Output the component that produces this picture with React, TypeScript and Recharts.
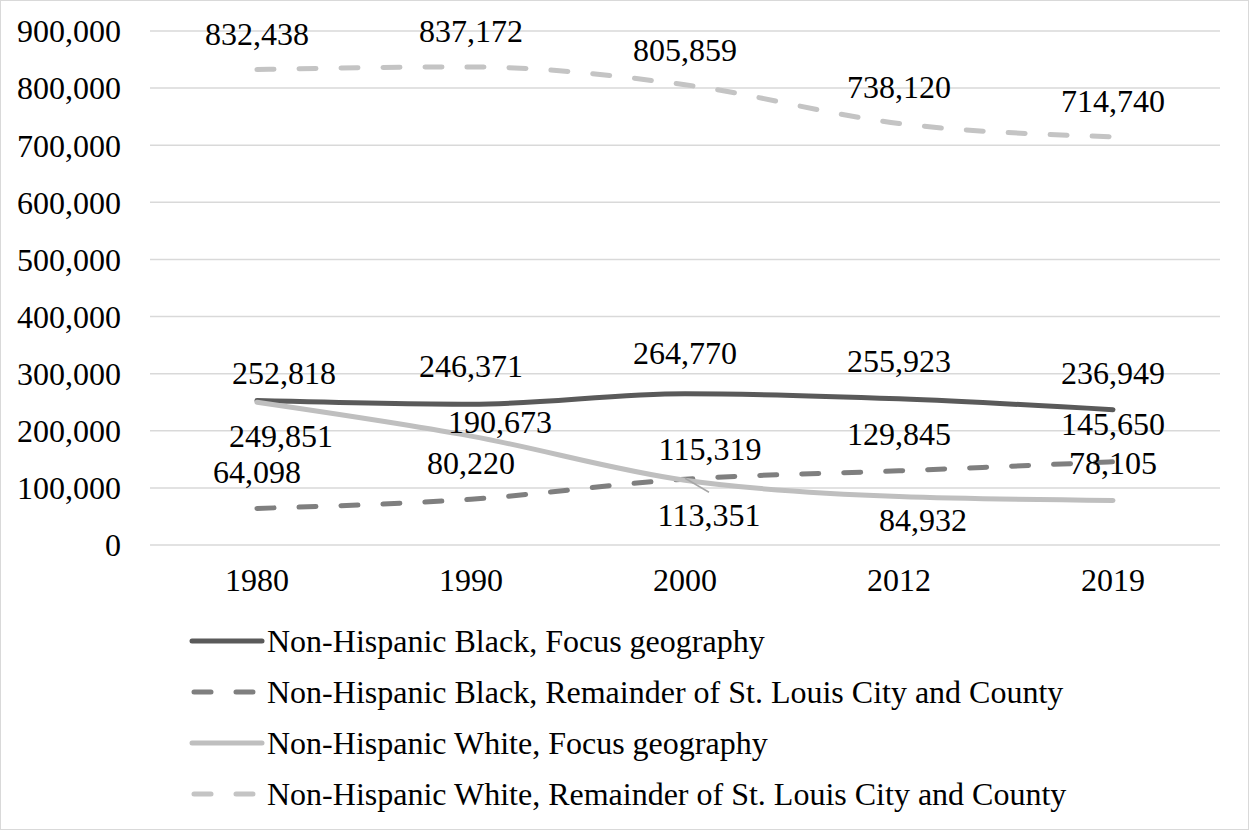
import React from 'react';
import { LineChart, Line, XAxis, YAxis, CartesianGrid, LabelList, Legend } from 'recharts';

const years = ['1980', '1990', '2000', '2012', '2019'];
const blackFocus = [252818, 246371, 264770, 255923, 236949];
const blackRemainder = [64098, 80220, 115319, 129845, 145650];
const whiteFocus = [249851, 190673, 113351, 84932, 78105];
const whiteRemainder = [832438, 837172, 805859, 738120, 714740];
const yTicks = [0, 100000, 200000, 300000, 400000, 500000, 600000, 700000, 800000, 900000];

const data = years.map((year, i) => ({
  year,
  blackFocus: blackFocus[i],
  blackRemainder: blackRemainder[i],
  whiteFocus: whiteFocus[i],
  whiteRemainder: whiteRemainder[i],
}));

const FONT = '"Liberation Serif", "Times New Roman", Times, serif';
const fmt = (v: number) => String(v).replace(/\B(?=(\d{3})+(?!\d))/g, ',');
const DASH = '17 25';
const SW = 5;

// label placement (offset of label centre from point), kept apart from values
const series = [
  { key: 'blackFocus', name: 'Non-Hispanic Black, Focus geography', color: '#5a5a5a', dashed: false,
    offsets: [[27, -28], [0, -38], [0, -41], [0, -38], [0, -37]], leader: -1 },
  { key: 'blackRemainder', name: 'Non-Hispanic Black, Remainder of St. Louis City and County', color: '#7f7f7f', dashed: true,
    offsets: [[0, -36], [0, -36], [25, -30], [0, -37], [0, -38]], leader: -1 },
  { key: 'whiteFocus', name: 'Non-Hispanic White, Focus geography', color: '#bfbfbf', dashed: false,
    offsets: [[24, 34], [29, -14], [24, 35], [24, 24], [0, -37]], leader: 2 },
  { key: 'whiteRemainder', name: 'Non-Hispanic White, Remainder of St. Louis City and County', color: '#c4c4c4', dashed: true,
    offsets: [[0, -36], [0, -36], [0, -35], [0, -36], [0, -36]], leader: -1 },
];

const makeLabel = (offsets: number[][], leader: number) => (props: any) => {
  const { x, y, value, index } = props;
  const px = Number(x);
  const py = Number(y);
  const [dx, dy] = offsets[index] || [0, -36];
  return (
    <g>
      {leader === index && (
        <line x1={px} y1={py - 2} x2={px + 24} y2={py + 12} stroke="#a6a6a6" strokeWidth={1.5} />
      )}
      <text x={px + dx} y={py + dy + 11} textAnchor="middle" fontFamily={FONT} fontSize={32} fill="#000">
        {fmt(Number(value))}
      </text>
    </g>
  );
};

const renderLegend = () => (
  <svg width={1249} height={830} style={{ position: 'absolute', left: 0, top: 0 }}>
    {series.map((s, i) => {
      const cy = 641 + i * 51;
      return (
        <g key={s.key}>
          <line
            x1={s.dashed ? 194 : 192}
            x2={s.dashed ? 260 : 262}
            y1={cy}
            y2={cy}
            stroke={s.color}
            strokeWidth={SW}
            strokeLinecap="round"
            strokeDasharray={s.dashed ? DASH : undefined}
          />
          <text x={267} y={cy + 11} fontFamily={FONT} fontSize={32} fill="#000">
            {s.name}
          </text>
        </g>
      );
    })}
  </svg>
);

export default function App() {
  return (
    <div
      style={{
        position: 'absolute',
        left: 0,
        top: 0,
        width: 1249,
        height: 830,
        border: '1px solid #d9d9d9',
        boxSizing: 'border-box',
        background: '#fff',
      }}
    >
      <div style={{ position: 'absolute', left: -1, top: -1 }}>
        <LineChart width={1249} height={830} data={data} margin={{ top: 31, right: 29, bottom: 245, left: 20 }}>
          <CartesianGrid vertical={false} stroke="#d9d9d9" strokeWidth={1.5} />
          <XAxis
            dataKey="year"
            axisLine={false}
            tickLine={false}
            tickSize={0}
            tickMargin={23}
            height={40}
            padding={{ left: 107, right: 107 }}
            tick={{ fontFamily: FONT, fontSize: 32, fill: '#000' }}
            interval={0}
          />
          <YAxis
            domain={[0, 900000]}
            ticks={yTicks}
            axisLine={false}
            tickLine={false}
            tickSize={0}
            tickMargin={29}
            width={130}
            tickFormatter={fmt}
            tick={{ fontFamily: FONT, fontSize: 32, fill: '#000' }}
            interval={0}
          />
          {series.map((s) => (
            <Line
              key={s.key}
              dataKey={s.key}
              name={s.name}
              type="monotone"
              stroke={s.color}
              strokeWidth={SW}
              strokeLinecap="round"
              strokeDasharray={s.dashed ? DASH : undefined}
              dot={false}
              activeDot={false}
              isAnimationActive={false}
            >
              <LabelList dataKey={s.key} content={makeLabel(s.offsets, s.leader)} />
            </Line>
          ))}
          <Legend
            layout="vertical"
            align="center"
            verticalAlign="middle"
            content={renderLegend}
            wrapperStyle={{ left: 0, top: 0, width: 1249, height: 830, pointerEvents: 'none' }}
          />
        </LineChart>
      </div>
    </div>
  );
}
